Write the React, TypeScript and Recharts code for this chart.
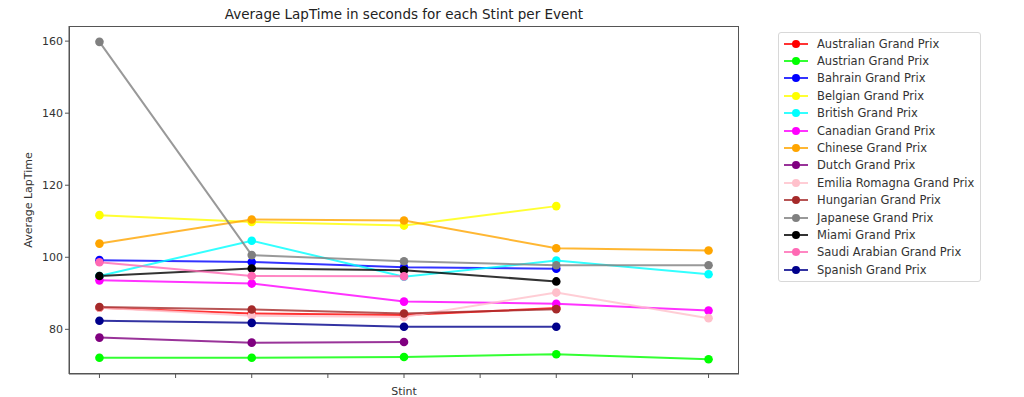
import { LineChart, Line, XAxis, YAxis } from 'recharts'

const stints = [1, 2, 3, 4, 5]
const xTicks = [1, 1.5, 2, 2.5, 3, 3.5, 4, 4.5, 5]
const yTicks = [80, 100, 120, 140, 160]

const events = [
  'Australian Grand Prix',
  'Austrian Grand Prix',
  'Bahrain Grand Prix',
  'Belgian Grand Prix',
  'British Grand Prix',
  'Canadian Grand Prix',
  'Chinese Grand Prix',
  'Dutch Grand Prix',
  'Emilia Romagna Grand Prix',
  'Hungarian Grand Prix',
  'Japanese Grand Prix',
  'Miami Grand Prix',
  'Saudi Arabian Grand Prix',
  'Spanish Grand Prix',
]

const colors = [
  '#ff0000', '#00ff00', '#0000ff', '#ffff00', '#00ffff', '#ff00ff', '#ffa500',
  '#800080', '#ffc0cb', '#a52a2a', '#808080', '#000000', '#ff69b4', '#00008b',
]

// average lap time per stint, one array per event (shorter = fewer stints)
const australian = [86.0, 84.4, 84.0, 85.9]
const austrian = [72.1, 72.1, 72.3, 73.1, 71.7]
const bahrain = [99.2, 98.7, 97.2, 96.8]
const belgian = [111.7, 109.8, 108.8, 114.2]
const british = [94.8, 104.6, 94.6, 99.1, 95.3]
const canadian = [93.6, 92.7, 87.7, 87.1, 85.2]
const chinese = [103.8, 110.5, 110.2, 102.5, 101.9]
const dutch = [77.7, 76.3, 76.5]
const emilia = [86.0, 83.8, 83.4, 90.2, 83.1]
const hungarian = [86.2, 85.5, 84.4, 85.6]
const japanese = [159.8, 100.6, 98.9, 97.8, 97.8]
const miami = [94.8, 96.9, 96.4, 93.3]
const saudi = [98.6, 94.8, 94.7]
const spanish = [82.4, 81.8, 80.7, 80.7]

const series = [
  australian, austrian, bahrain, belgian, british, canadian, chinese,
  dutch, emilia, hungarian, japanese, miami, saudi, spanish,
]

const data = stints.map((s, i) => {
  const row: Record<string, number | undefined> = { stint: s }
  events.forEach((e, k) => {
    row[e] = series[k][i]
  })
  return row
})

const font = "'DejaVu Sans', sans-serif"
const textColor = '#333333'

function LegendBox() {
  return (
    <div
      style={{
        position: 'absolute',
        left: 778,
        top: 32,
        border: '1px solid #d8d8d8',
        borderRadius: 3,
        padding: '2px 6px 3px 4px',
        background: '#fff',
        fontFamily: font,
        fontSize: 11.5,
        color: textColor,
      }}
    >
      {events.map((e, k) => (
        <div key={e} style={{ display: 'flex', alignItems: 'center', height: 17.4 }}>
          <svg width={30} height={10} style={{ marginRight: 4 }}>
            <line x1={1} y1={5} x2={25} y2={5} stroke={colors[k]} strokeWidth={2} strokeOpacity={0.8} />
            <circle cx={13} cy={5} r={4} fill={colors[k]} />
          </svg>
          <span style={{ whiteSpace: 'nowrap' }}>{e}</span>
        </div>
      ))}
    </div>
  )
}

export default function App() {
  return (
    <div style={{ position: 'absolute', left: 0, top: 0, width: 1024, height: 397, background: '#fff' }}>
      <div
        style={{
          position: 'absolute',
          left: 69,
          width: 670,
          top: 6,
          textAlign: 'center',
          fontFamily: font,
          fontSize: 13.5,
          color: '#222',
        }}
      >
        Average LapTime in seconds for each Stint per Event
      </div>
      <LineChart
        width={1024}
        height={397}
        data={data}
        margin={{ top: 26, right: 285, bottom: 0, left: 0 }}
      >
        <XAxis
          dataKey="stint"
          type="number"
          domain={[0.8, 5.2]}
          ticks={xTicks}
          tickFormatter={() => ''}
          height={23}
          stroke="#555"
          tickSize={4}
          tick={{ fontSize: 11 }}
          label={{ value: 'Stint', position: 'insideBottom', offset: 2, fontSize: 11, fontFamily: font, fill: textColor }}
        />
        <YAxis
          type="number"
          domain={[67.6, 164.2]}
          ticks={yTicks}
          width={69}
          stroke="#555"
          tickSize={4}
          tick={{ fontSize: 11, fontFamily: font, fill: textColor }}
          label={{ value: 'Average LapTime', angle: -90, position: 'insideLeft', offset: 28, fontSize: 11, fontFamily: font, fill: textColor, style: { textAnchor: 'middle' } }}
        />
        {events.map((e, k) => (
          <Line
            key={e}
            dataKey={e}
            stroke={colors[k]}
            strokeWidth={2}
            strokeOpacity={0.8}
            dot={{ r: 4.3, fill: colors[k], stroke: 'none', fillOpacity: 1 }}
            activeDot={false}
            isAnimationActive={false}
          />
        ))}
      </LineChart>
      <div
        style={{
          position: 'absolute',
          left: 69,
          top: 26,
          width: 670,
          height: 348,
          border: '1px solid #555',
          boxSizing: 'border-box',
          pointerEvents: 'none',
        }}
      />
      <LegendBox />
    </div>
  )
}
